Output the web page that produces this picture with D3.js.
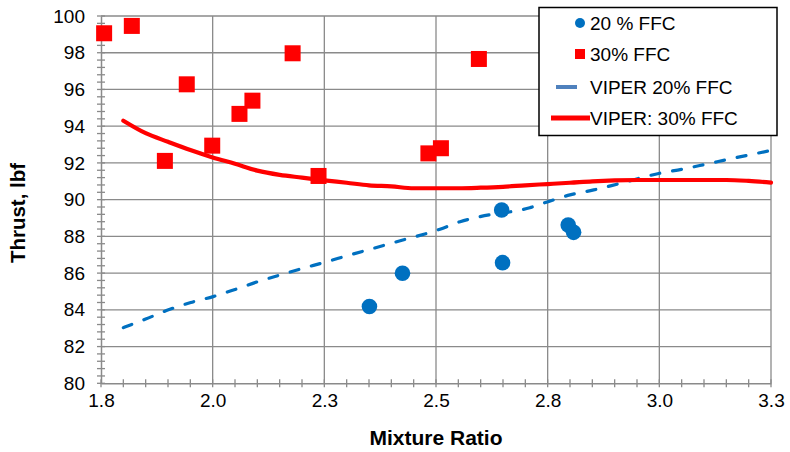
<!DOCTYPE html>
<html><head><meta charset="utf-8">
<script src="https://cdn.jsdelivr.net/npm/d3@7"></script>
<style>body{margin:0;background:#fff}svg{display:block;font-family:"Liberation Sans",Arial,sans-serif}</style>
</head><body><svg id="c" width="790" height="452"></svg>
<script>
// Data
const ffc20MR = [2.401, 2.475, 2.697, 2.699, 2.846, 2.858];
const ffc20Thrust = [84.18, 85.99, 89.44, 86.57, 88.62, 88.22];
const ffc30MR = [1.807, 1.869, 1.943, 1.992, 2.049, 2.110, 2.139, 2.229, 2.287, 2.533, 2.561, 2.646];
const ffc30Thrust = [99.06, 99.46, 92.11, 96.28, 92.94, 94.67, 95.39, 97.97, 91.29, 92.52, 92.80, 97.66];
const viper20MR = [1.85, 1.90, 1.951, 2.001, 2.051, 2.104, 2.152, 2.201, 2.253, 2.298, 2.357, 2.41, 2.462, 2.559, 2.604, 2.648, 2.760, 2.801, 2.850, 2.903, 2.955, 3.051, 3.104, 3.156, 3.209, 3.298];
const viper20Thrust = [83.03, 83.5, 84.0, 84.4, 84.72, 85.14, 85.54, 85.90, 86.27, 86.57, 86.99, 87.35, 87.71, 88.39, 88.80, 89.07, 89.56, 89.89, 90.26, 90.53, 90.84, 91.44, 91.67, 91.94, 92.22, 92.67];
const viper30MR = [1.85, 1.90, 1.95, 2.00, 2.05, 2.10, 2.15, 2.20, 2.25, 2.30, 2.35, 2.40, 2.45, 2.50, 2.55, 2.60, 2.65, 2.70, 2.75, 2.80, 2.85, 2.90, 2.95, 3.00, 3.05, 3.10, 3.15, 3.20, 3.25, 3.30];
const viper30Thrust = [94.30, 93.62, 93.15, 92.70, 92.30, 91.95, 91.58, 91.35, 91.20, 91.05, 90.92, 90.78, 90.72, 90.62, 90.62, 90.62, 90.65, 90.70, 90.78, 90.85, 90.92, 91.00, 91.05, 91.07, 91.07, 91.07, 91.07, 91.07, 91.02, 90.93];
const xTickValues = [1.8, 2.05, 2.3, 2.55, 2.8, 3.05, 3.3];
const xTickLabels = ["1.8", "2.0", "2.3", "2.5", "2.8", "3.0", "3.3"];
const yTickValues = [80, 82, 84, 86, 88, 90, 92, 94, 96, 98, 100];
const legendLabels = ["20 % FFC", "30% FFC", "VIPER 20% FFC", "VIPER: 30% FFC"];

const svg = d3.select("#c");
const L = 101, R = 771, T = 16, B = 383.3;
const x = d3.scaleLinear().domain([1.8, 3.3]).range([L, R]);
const y = d3.scaleLinear().domain([80, 100]).range([B, T]);
const grid = "#8a8a8a";

// gridlines
svg.append("g").selectAll("line").data(yTickValues.slice(1)).join("line")
  .attr("x1", L).attr("x2", R).attr("y1", d => y(d)).attr("y2", d => y(d))
  .attr("stroke", grid).attr("stroke-width", 1.3);
svg.append("g").selectAll("line").data(xTickValues.slice(1)).join("line")
  .attr("y1", T).attr("y2", B).attr("x1", d => x(d)).attr("x2", d => x(d))
  .attr("stroke", grid).attr("stroke-width", 1.3);

// minor ticks
const yMinor = d3.range(0, 51).map(i => 80 + i * 0.4);
svg.append("g").selectAll("line").data(yMinor).join("line")
  .attr("x1", L - 4).attr("x2", L + 4).attr("y1", d => y(d)).attr("y2", d => y(d))
  .attr("stroke", grid).attr("stroke-width", 1.3);
const xMinor = d3.range(0, 31).map(i => 1.8 + i * 0.05);
svg.append("g").selectAll("line").data(xMinor).join("line")
  .attr("y1", B - 4).attr("y2", B + 4).attr("x1", d => x(d)).attr("x2", d => x(d))
  .attr("stroke", grid).attr("stroke-width", 1.3);

// axes
const yAxis = svg.append("g").attr("transform", `translate(${L},0)`)
  .call(d3.axisLeft(y).tickValues(yTickValues).tickSize(0).tickPadding(16).tickFormat(d3.format("d")));
const xAxis = svg.append("g").attr("transform", `translate(0,${B})`)
  .call(d3.axisBottom(x).tickValues(xTickValues).tickSize(0).tickPadding(10).tickFormat((d, i) => xTickLabels[i]));
[yAxis, xAxis].forEach(g => {
  g.select(".domain").attr("stroke", grid).attr("stroke-width", 1.5);
  g.selectAll("text").attr("font-size", 19).attr("fill", "#000").attr("font-family", "Liberation Sans, Arial, sans-serif");
});

// VIPER lines
const line = d3.line().x(d => x(d[0])).y(d => y(d[1])).curve(d3.curveMonotoneX);
svg.append("path").datum(viper20MR.map((m, i) => [m, viper20Thrust[i]]))
  .attr("d", line).attr("fill", "none").attr("stroke", "#0070C0").attr("stroke-width", 3.2)
  .attr("stroke-dasharray", "9,13").attr("stroke-linecap", "round");
svg.append("path").datum(viper30MR.map((m, i) => [m, viper30Thrust[i]]))
  .attr("d", line).attr("fill", "none").attr("stroke", "#FF0000").attr("stroke-width", 4.2)
  .attr("stroke-linecap", "round");

// points
svg.append("g").selectAll("circle").data(ffc20MR.map((m, i) => [m, ffc20Thrust[i]])).join("circle")
  .attr("cx", d => x(d[0])).attr("cy", d => y(d[1])).attr("r", 7.8).attr("fill", "#0070C0");
svg.append("g").selectAll("rect").data(ffc30MR.map((m, i) => [m, ffc30Thrust[i]])).join("rect")
  .attr("x", d => x(d[0]) - 8).attr("y", d => y(d[1]) - 8).attr("width", 16).attr("height", 16).attr("fill", "#FF0000");

// axis titles
svg.append("text").attr("x", (L + R) / 2).attr("y", 445).attr("text-anchor", "middle")
  .attr("font-size", 21).attr("font-weight", "bold").text("Mixture Ratio");
svg.append("text").attr("transform", "translate(25,213) rotate(-90)").attr("text-anchor", "middle")
  .attr("font-size", 20.5).attr("font-weight", "bold").text("Thrust, lbf");

// legend
const lg = svg.append("g");
lg.append("rect").attr("x", 539).attr("y", 7.5).attr("width", 238).attr("height", 128)
  .attr("fill", "#fff").attr("stroke", "#000").attr("stroke-width", 1.5);
const ly = [23, 54, 87, 118];
lg.append("circle").attr("cx", 580).attr("cy", ly[0]).attr("r", 5).attr("fill", "#0070C0");
lg.append("rect").attr("x", 575).attr("y", ly[1] - 5).attr("width", 10).attr("height", 10).attr("fill", "#FF0000");
lg.append("line").attr("x1", 556).attr("x2", 577).attr("y1", ly[2]).attr("y2", ly[2]).attr("stroke", "#4F81BD").attr("stroke-width", 4);
lg.append("line").attr("x1", 551).attr("x2", 590).attr("y1", ly[3]).attr("y2", ly[3]).attr("stroke", "#FF0000").attr("stroke-width", 5);
lg.selectAll("text").data(legendLabels).join("text")
  .attr("x", 590).attr("y", (d, i) => ly[i]).attr("dy", "0.36em").attr("font-size", 19).text(d => d);
</script></body></html>
